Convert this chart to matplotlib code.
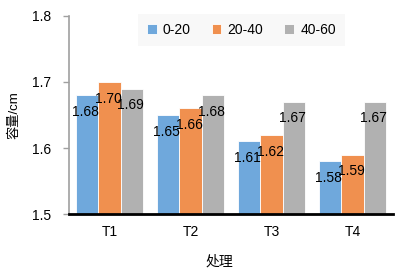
import numpy as np
import matplotlib.pyplot as plt

plt.rcParams['font.family'] = ['Liberation Sans', 'Noto Sans CJK SC', 'DejaVu Sans']

# 数据
groups = ['T1', 'T2', 'T3', 'T4']
series = ['0-20', '20-40', '40-60']
v_0_20 = [1.68, 1.65, 1.61, 1.58]
v_20_40 = [1.70, 1.66, 1.62, 1.59]
v_40_60 = [1.69, 1.68, 1.67, 1.67]
colors = ['#6fa8dc', '#f0904f', '#b1b1b1']

fig = plt.figure(figsize=(4.01, 2.70), dpi=100)
ax = fig.add_axes([0.172, 0.207, 0.808, 0.734])

x = np.arange(len(groups))
w = 0.275
for i, (name, vals) in enumerate(zip(series, [v_0_20, v_20_40, v_40_60])):
    pos = x + (i - 1) * w
    ax.bar(pos, np.array(vals) - 1.5, bottom=1.5, width=w, color=colors[i],
           edgecolor='white', linewidth=0.6, label=name)
    for xp, v in zip(pos, vals):
        ax.annotate(f'{v:.2f}', (xp, v), xytext=(-1, -12), textcoords='offset points',
                    ha='center', va='center', fontsize=10, color='black')

ax.set_xlim(-0.5, 3.5)
ax.set_ylim(1.5, 1.8)
ax.set_yticks([1.5, 1.6, 1.7, 1.8])
ax.set_xticks(x)
ax.set_xticklabels(groups)
ax.tick_params(axis='y', length=4.5, width=1, color='#a0a0a0', labelsize=10, pad=8)
ax.tick_params(axis='x', length=0, labelsize=10, pad=8)

for s in ['top', 'right']:
    ax.spines[s].set_visible(False)
ax.spines['left'].set_color('#a0a0a0')
ax.spines['left'].set_linewidth(1.2)
ax.spines['bottom'].set_color('black')
ax.spines['bottom'].set_linewidth(2)

ax.set_ylabel('容量/cm', fontsize=9.5, labelpad=9)
ax.set_xlabel('处理', fontsize=10)
ax.xaxis.set_label_coords(0.463, -0.205)

leg = ax.legend(loc='upper center', bbox_to_anchor=(0.532, 1.01), ncol=3, frameon=True,
                fontsize=10, handlelength=0.7, handleheight=0.7, handletextpad=0.45,
                columnspacing=1.5, borderpad=0.65, borderaxespad=0, fancybox=False)
leg.get_frame().set_facecolor('#f7f7f7')
leg.get_frame().set_edgecolor('none')

fig.savefig('out.png', dpi=100)
